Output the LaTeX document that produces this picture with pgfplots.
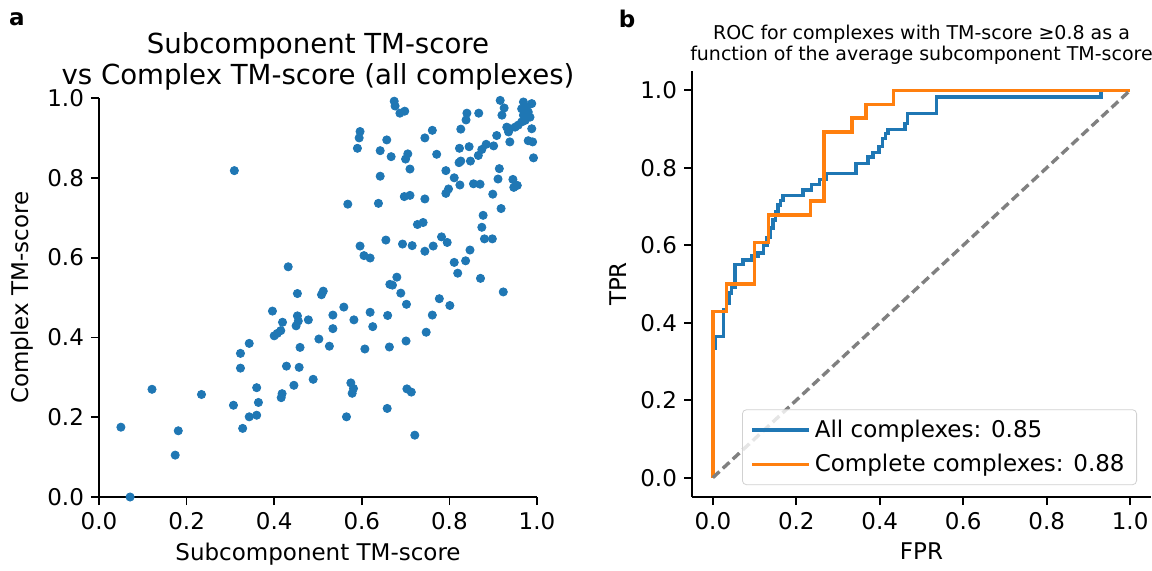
\documentclass[border=0pt]{standalone}
\usepackage{fontspec}
\setmainfont{DejaVu Sans}
\usepackage{pgfplots}
\pgfplotsset{compat=1.18}
\definecolor{tabblue}{HTML}{1F77B4}
\definecolor{taborange}{HTML}{FF7F0E}

\pgfplotsset{
  mplstyle/.style={
    scale only axis,
    axis lines=left,
    axis line style={-, line width=0.9pt, black},
    tick align=outside,
    major tick length=4pt,
    every tick/.style={black, line width=0.9pt},
    tick label style={font=\fontsize{11.5}{13}\selectfont},
    label style={font=\fontsize{11.5}{13}\selectfont},
    /pgf/number format/fixed,
    /pgf/number format/fixed zerofill,
    /pgf/number format/precision=1,
    /pgf/number format/assume math mode=true,
    xtick={0,0.2,0.4,0.6,0.8,1},
    ytick={0,0.2,0.4,0.6,0.8,1},
  }
}

\begin{document}
\begin{tikzpicture}
\path[use as bounding box] (0pt,0pt) rectangle (576pt,-285pt);

\node[font=\bfseries\fontsize{11.5}{13}\selectfont] at (8.5pt,-9.5pt) {a};
\node[font=\bfseries\fontsize{11.5}{13}\selectfont] at (313.5pt,-9.5pt) {b};

% panel a: scatter
\begin{axis}[mplstyle,
  at={(49.5pt,-248.5pt)}, anchor=south west,
  width=219pt, height=199.5pt,
  xmin=0, xmax=1, ymin=0, ymax=1,
  xlabel={Subcomponent TM-score},
  ylabel={Complex TM-score},
  title={Subcomponent TM-score\\vs Complex TM-score (all complexes)},
  title style={align=center, font=\fontsize{13.8}{15.5}\selectfont, yshift=-5.5pt},
]
\addplot[only marks, mark=*, tabblue, mark size=2.05pt]
coordinates {
(0.050,0.175) (0.071,0.000) (0.121,0.270) (0.174,0.105) (0.181,0.166)
(0.234,0.257) (0.307,0.230) (0.309,0.818) (0.323,0.360) (0.323,0.323)
(0.328,0.172) (0.343,0.385) (0.343,0.201) (0.360,0.274) (0.360,0.205)
(0.364,0.237) (0.396,0.466) (0.400,0.404) (0.407,0.410) (0.415,0.417)
(0.416,0.249) (0.418,0.259) (0.419,0.438) (0.428,0.328) (0.432,0.577)
(0.445,0.280) (0.450,0.429) (0.453,0.454) (0.455,0.441) (0.453,0.510)
(0.457,0.325) (0.459,0.375) (0.478,0.444) (0.489,0.295) (0.502,0.396)
(0.508,0.507) (0.512,0.516)
(0.526,0.378) (0.534,0.456) (0.534,0.422) (0.559,0.476) (0.565,0.201)
(0.575,0.286) (0.581,0.272) (0.578,0.260) (0.582,0.444) (0.568,0.734)
(0.590,0.874) (0.594,0.900) (0.596,0.916) (0.596,0.629) (0.605,0.605)
(0.607,0.371) (0.619,0.599) (0.619,0.463) (0.625,0.427) (0.638,0.736)
(0.642,0.868) (0.642,0.804) (0.655,0.644) (0.657,0.895) (0.658,0.222)
(0.659,0.455) (0.663,0.376) (0.664,0.533) (0.667,0.853) (0.670,0.531)
(0.674,0.992) (0.676,0.980) (0.680,0.551) (0.687,0.962) (0.689,0.511)
(0.693,0.634) (0.697,0.753) (0.698,0.967) (0.700,0.847) (0.701,0.391)
(0.702,0.483) (0.703,0.271) (0.705,0.860) (0.710,0.822) (0.710,0.756)
(0.713,0.263) (0.715,0.630) (0.721,0.155) (0.727,0.683) (0.740,0.688)
(0.744,0.900) (0.744,0.747) (0.744,0.616) (0.747,0.413) (0.761,0.919)
(0.761,0.456) (0.763,0.629) (0.771,0.859) (0.777,0.497) (0.782,0.652)
(0.792,0.818) (0.792,0.761) (0.795,0.638) (0.798,0.772) (0.801,0.480)
(0.811,0.800) (0.811,0.588) (0.819,0.561) (0.822,0.838) (0.823,0.874)
(0.824,0.782) (0.826,0.842) (0.826,0.922) (0.837,0.592)
(0.838,0.945) (0.840,0.962) (0.845,0.878) (0.847,0.619) (0.848,0.842)
(0.855,0.785) (0.866,0.856) (0.867,0.962) (0.870,0.784) (0.871,0.548)
(0.874,0.871) (0.874,0.676) (0.877,0.706) (0.880,0.647) (0.884,0.884)
(0.898,0.647) (0.899,0.759) (0.901,0.880) (0.908,0.906) (0.911,0.797)
(0.914,0.823) (0.918,0.723) (0.923,0.514) (0.945,0.796) (0.947,0.776)
(0.955,0.781)
(0.916,0.994) (0.925,0.975) (0.920,0.957) (0.969,0.990) (0.988,0.986)
(0.976,0.977) (0.965,0.973) (0.980,0.965) (0.969,0.957) (0.984,0.952)
(0.973,0.944) (0.965,0.940) (0.957,0.932) (0.950,0.927) (0.938,0.923)
(0.931,0.927) (0.935,0.915) (0.988,0.923) (0.938,0.890) (0.980,0.893)
(0.990,0.890) (0.992,0.850)
};
\end{axis}

% panel b: ROC
\begin{axis}[mplstyle,
  at={(346pt,-248.5pt)}, anchor=south west,
  width=229.5pt, height=213pt,
  xmin=-0.05, xmax=1.05, ymin=-0.05, ymax=1.05,
  xlabel={FPR},
  ylabel={TPR},
  title={ROC for complexes with TM-score ≥0.8 as a\\function of the average subcomponent TM-score},
  title style={align=center, font=\fontsize{9.5}{10.5}\selectfont, yshift=-6.5pt},
  legend style={at={(0.9695,0.028)}, anchor=south east, draw=black!18,
    rounded corners=2pt, fill=white, fill opacity=0.8, text opacity=1,
    font=\fontsize{11.5}{13}\selectfont, inner xsep=4pt, inner ysep=3pt,
    row sep=3pt},
  legend cell align=left,
  legend image code/.code={\draw[#1] (0pt,0pt) -- (24pt,0pt);
    \path (0pt,0pt) -- (28.5pt,0pt);},
]
\addplot[tabblue, line width=1.7pt] coordinates {
(0,0) (0,0.334) (0.007,0.334) (0.007,0.364) (0.026,0.364) (0.026,0.434)
(0.033,0.434) (0.033,0.45) (0.04,0.45) (0.04,0.477) (0.044,0.477)
(0.044,0.492) (0.053,0.492) (0.053,0.55) (0.072,0.55) (0.072,0.562)
(0.094,0.562) (0.094,0.572) (0.108,0.572) (0.108,0.58) (0.122,0.58)
(0.122,0.6) (0.13,0.6) (0.13,0.62) (0.138,0.62) (0.138,0.645)
(0.144,0.645) (0.144,0.665) (0.15,0.665) (0.15,0.686) (0.156,0.686)
(0.156,0.704) (0.162,0.704) (0.162,0.716) (0.168,0.716) (0.168,0.729)
(0.216,0.729) (0.216,0.743) (0.236,0.743) (0.236,0.757) (0.256,0.757)
(0.256,0.77) (0.272,0.77) (0.272,0.785) (0.343,0.785) (0.343,0.811)
(0.372,0.811) (0.372,0.828) (0.384,0.828) (0.384,0.84) (0.398,0.84)
(0.398,0.855) (0.406,0.855) (0.406,0.876) (0.414,0.876) (0.414,0.888)
(0.42,0.888) (0.42,0.899) (0.46,0.899) (0.46,0.914) (0.466,0.914)
(0.466,0.941) (0.536,0.941) (0.536,0.983) (0.93,0.983) (0.93,1) (1,1)
};
\addlegendentry{All complexes: 0.85}
\addplot[taborange, line width=1.7pt] coordinates {
(0,0) (0,0.4286) (0.0333,0.4286) (0.0333,0.5) (0.1,0.5) (0.1,0.6071)
(0.1333,0.6071) (0.1333,0.6786) (0.2333,0.6786) (0.2333,0.7143)
(0.2667,0.7143) (0.2667,0.8929) (0.3333,0.8929) (0.3333,0.9286)
(0.3667,0.9286) (0.3667,0.9643) (0.4333,0.9643) (0.4333,1) (1,1)
};
\addlegendentry{Complete complexes: 0.88}
\addplot[gray, line width=1.7pt, dash pattern=on 4.5pt off 2.3pt, forget plot]
coordinates {(0,0) (1,1)};
\end{axis}
\end{tikzpicture}
\end{document}
